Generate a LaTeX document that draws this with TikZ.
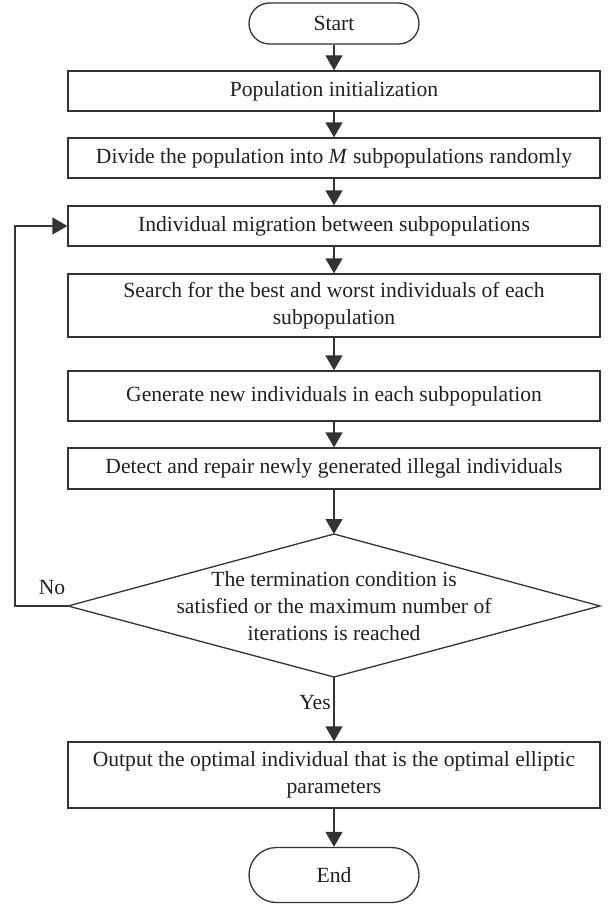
\documentclass[tikz,border=0pt]{standalone}
\usepackage{fontspec}
\setmainfont{Liberation Serif}
\usetikzlibrary{arrows.meta}
\definecolor{linec}{HTML}{333333}
\definecolor{txtc}{HTML}{231F20}
\begin{document}
\begin{tikzpicture}[x=1pt,y=-1pt,
  txt/.style={font=\fontsize{21.6}{27}\selectfont, text=txtc},
  box/.style={txt, draw=linec, line width=1.3pt, rectangle, minimum width=532pt, inner sep=0pt, align=center},
  term/.style={txt, draw=linec, line width=1.3pt, rectangle, minimum width=170pt, inner sep=0pt},
  conn/.style={draw=linec, line width=1.3pt},
  arr/.style={conn, -{Triangle[width=17pt,length=15pt]}}
]
\useasboundingbox (0,0) rectangle (611,907);

\node[term, minimum height=41pt, rounded corners=20.5pt] (start) at (334,23.5) {Start};
\node[box, minimum height=40pt] (pop) at (334,91) {Population initialization};
\node[box, minimum height=40pt] (div) at (334,158) {Divide the population into \textit{M} subpopulations randomly};
\node[box, minimum height=40pt] (mig) at (334,226) {Individual migration between subpopulations};
\node[box, minimum height=63pt] (search) at (334,305.5) {Search for the best and worst individuals of each\\subpopulation};
\node[box, minimum height=50pt] (gen) at (334,396) {Generate new individuals in each subpopulation};
\node[box, minimum height=41pt] (det) at (334,468.5) {Detect and repair newly generated illegal individuals};

\coordinate (dt) at (334,534);
\coordinate (dr) at (600,606);
\coordinate (db) at (334,677);
\coordinate (dl) at (68,606);
\draw[conn] (dt) -- (dr) -- (db) -- (dl) -- cycle;
\node[txt, align=center] (dec) at (334,606) {The termination condition is\\satisfied or the maximum number of\\iterations is reached};

\node[box, minimum height=66pt] (out) at (334,775) {Output the optimal individual that is the optimal elliptic\\parameters};
\node[term, minimum height=55pt, rounded corners=27.5pt] (end) at (334,875) {End};

\node[txt] (no) at (52,588) {No};
\node[txt] (yes) at (315,703) {Yes};

\draw[arr] (start) -- (pop);
\draw[arr] (pop) -- (div);
\draw[arr] (div) -- (mig);
\draw[arr] (mig) -- (search);
\draw[arr] (search) -- (gen);
\draw[arr] (gen) -- (det);
\draw[arr] (det) -- (dt);
\draw[arr] (db) -- (out);
\draw[arr] (out) -- (end);
\coordinate (c1) at (15,606);
\draw[arr] (dl) -- (c1) |- (mig.west);
\end{tikzpicture}
\end{document}
